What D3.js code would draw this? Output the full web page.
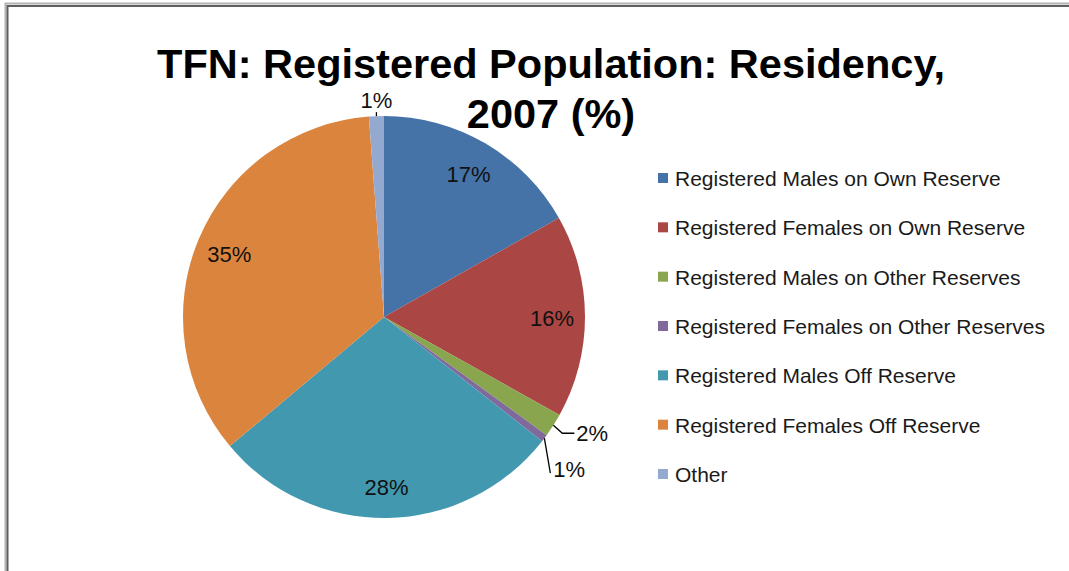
<!DOCTYPE html>
<html>
<head>
<meta charset="utf-8">
<script src="https://cdn.jsdelivr.net/npm/d3@7"></script>
<style>
  body { margin: 0; background: #fff; }
  svg { display: block; font-family: "Liberation Sans", Arial, sans-serif; }
</style>
</head>
<body>
<script>
// data (percent of registered population)
var categories = [
  "Registered Males on Own Reserve",
  "Registered Females on Own Reserve",
  "Registered Males on Other Reserves",
  "Registered Females on Other Reserves",
  "Registered Males Off Reserve",
  "Registered Females Off Reserve",
  "Other"
];
var values = [16.8, 16.3, 1.9, 0.6, 28.3, 34.9, 1.2];
var colors = ["#4572A7", "#AA4643", "#89A54E", "#80699B", "#4198AF", "#DB843D", "#93A9CF"];
var titleLines = ["TFN: Registered Population: Residency,", "2007 (%)"];

var width = 1069, height = 571;
var cx = 384, cy = 317, radius = 201;

var svg = d3.select("body").append("svg")
  .attr("width", width)
  .attr("height", height);

// outer frame (double grey line, runs off right/bottom)
svg.append("rect").attr("x", 5.5).attr("y", 3.5).attr("width", width + 20).attr("height", height + 20)
  .attr("fill", "none").attr("stroke", "#b4b4b4").attr("stroke-width", 2);
svg.append("rect").attr("x", 7.5).attr("y", 6).attr("width", width + 20).attr("height", height + 20)
  .attr("fill", "none").attr("stroke", "#5f5f5f").attr("stroke-width", 2);

// title
svg.append("g").selectAll("text")
  .data(titleLines)
  .enter().append("text")
  .attr("x", 551)
  .attr("y", function(d, i) { return 78 + i * 50; })
  .attr("text-anchor", "middle")
  .attr("font-size", "41.5px")
  .attr("font-weight", "bold")
  .attr("fill", "#000")
  .text(function(d) { return d; });

var color = d3.scaleOrdinal().domain(categories).range(colors);
var total = d3.sum(values);
var pct = function(v) { return Math.max(1, Math.round(v / total * 100)) + "%"; };

var pie = d3.pie().sort(null).value(function(d) { return d.value; });
var arcs = pie(categories.map(function(c, i) { return { name: c, value: values[i] }; }));

var arc = d3.arc().innerRadius(0).outerRadius(radius);
var labelArc = d3.arc().innerRadius(168).outerRadius(168);

var g = svg.append("g").attr("transform", "translate(" + cx + "," + cy + ")");

g.selectAll("path")
  .data(arcs)
  .enter().append("path")
  .attr("d", arc)
  .attr("fill", function(d) { return color(d.data.name); });

// point on a circle of radius r at the middle angle of slice d
function polar(d, r) {
  var a = (d.startAngle + d.endAngle) / 2;
  return [r * Math.sin(a), -r * Math.cos(a)];
}

// big slices: label inside
var big = arcs.filter(function(d) { return d.endAngle - d.startAngle > 0.3; });
g.selectAll("text.inside")
  .data(big)
  .enter().append("text")
  .attr("class", "inside")
  .attr("transform", function(d) { return "translate(" + labelArc.centroid(d) + ")"; })
  .attr("text-anchor", "middle")
  .attr("dy", "0.45em")
  .attr("font-size", "22px")
  .attr("fill", "#111")
  .text(function(d) { return pct(d.data.value); });

// small slices: outside labels with leader lines
var small = arcs.filter(function(d) { return d.endAngle - d.startAngle <= 0.3; });
var leader = {
  "Registered Males on Other Reserves": { pts: [[0, 0], [9, 8], [21, 8]], text: [23, 8], anchor: "start" },
  "Registered Females on Other Reserves": { pts: [[0, 0], [6, 35]], text: [9, 31], anchor: "start" },
  "Other": { pts: [[0, 0], [0, -4]], text: [0, -16], anchor: "middle" }
};
var line = d3.line();
small.forEach(function(d) {
  var p = polar(d, radius);
  var L = leader[d.data.name];
  g.append("path")
    .attr("d", line(L.pts.map(function(q) { return [p[0] + q[0], p[1] + q[1]]; })))
    .attr("fill", "none")
    .attr("stroke", "#000")
    .attr("stroke-width", 1.3);
  g.append("text")
    .attr("x", p[0] + L.text[0])
    .attr("y", p[1] + L.text[1])
    .attr("dy", "0.36em")
    .attr("text-anchor", L.anchor)
    .attr("font-size", "22px")
    .attr("fill", "#111")
    .text(pct(d.data.value));
});

// legend
var ly = d3.scalePoint().domain(categories).range([178, 474]);
var legend = svg.append("g").selectAll("g")
  .data(categories)
  .enter().append("g")
  .attr("transform", function(d) { return "translate(658," + ly(d) + ")"; });

legend.append("rect")
  .attr("x", 0).attr("y", -5)
  .attr("width", 10).attr("height", 10)
  .attr("fill", color);

legend.append("text")
  .attr("x", 17)
  .attr("y", 8)
  .attr("font-size", "21px")
  .attr("fill", "#1a1a1a")
  .text(function(d) { return d; });
</script>
</body>
</html>
